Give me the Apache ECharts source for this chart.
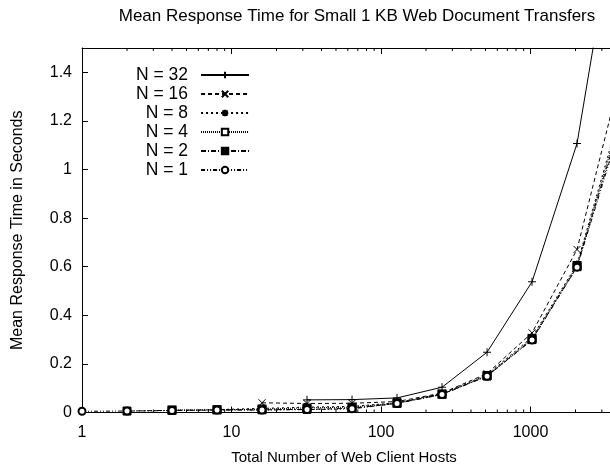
<!DOCTYPE html>
<html>
<head>
<meta charset="utf-8">
<script src="https://cdn.jsdelivr.net/npm/echarts@6/dist/echarts.min.js"></script>
<style>
  html, body { margin: 0; padding: 0; background: #fff; overflow: hidden; }
  /* the plot frame runs past the right edge of the window */
  #chart { width: 720px; height: 474px; }
</style>
</head>
<body>
<div id="chart"></div>
<script>
// Total number of web client hosts (x values)
const hosts = [1, 2, 4, 8, 16, 32, 64, 128, 256, 512, 1024, 2048, 4096];

// Mean response time (s) for each configuration; null where not measured
const n32 = [null, null, null, null, null, 0.052, 0.053, 0.060, 0.104, 0.248, 0.538, 1.107, 2.21];
const n16 = [null, null, null, null, 0.040, 0.037, 0.038, 0.045, 0.080, 0.160, 0.328, 0.671, 1.41];
const n8  = [null, null, null, 0.012, 0.017, 0.022, 0.025, 0.040, 0.078, 0.155, 0.310, 0.610, 1.26];
const n4  = [null, null, 0.010, 0.011, 0.014, 0.019, 0.022, 0.039, 0.076, 0.152, 0.305, 0.605, 1.24];
const n2  = [null, 0.006, 0.009, 0.011, 0.011, 0.013, 0.017, 0.038, 0.075, 0.150, 0.300, 0.600, 1.22];
const n1  = [0.005, 0.006, 0.008, 0.010, 0.010, 0.012, 0.015, 0.037, 0.074, 0.149, 0.298, 0.598, 1.20];

const seriesNames = ['N = 32', 'N = 16', 'N = 8', 'N = 4', 'N = 2', 'N = 1'];

// Minor ticks of the logarithmic host axis
const minorTicks = [];
[1, 10, 100, 1000].forEach(function (d) {
  for (let m = 2; m <= 9; m++) minorTicks.push(d * m);
});

const FONT = 'Liberation Sans';

function pairs(values) {
  return hosts.map(function (h, i) { return [h, values[i]]; });
}

const PLUS = 'path://M5,0L5,10M0,5L10,5';
const CROSS = 'path://M0,0L10,10M10,0L0,10';
const STAR = 'path://M1,1L9,9M9,1L1,9M5,0L5,10M0,5L10,5';

function lineSeries(name, values, dash, symbol, size, strokeOnly) {
  return {
    name: name,
    type: 'line',
    data: pairs(values),
    connectNulls: true,
    symbol: symbol,
    symbolSize: size,
    showAllSymbol: true,
    color: '#000',
    lineStyle: { color: '#000', width: 1, type: dash },
    itemStyle: strokeOnly
      ? { color: 'transparent', borderColor: '#000', borderWidth: 1 }
      : { color: '#000', borderColor: '#000', borderWidth: 1 },
    emphasis: { disabled: true },
    animation: false,
    z: 3
  };
}

const chart = echarts.init(document.getElementById('chart'), null, { renderer: 'canvas' });

const axisCommon = {
  type: 'log',
  logBase: 10,
  min: 1,
  max: 10000,
  axisLine: { lineStyle: { color: '#000', width: 1 } },
  axisTick: { inside: true, length: 6, lineStyle: { color: '#000' } },
  splitLine: { show: false }
};

chart.setOption({
  backgroundColor: '#fff',
  animation: false,
  textStyle: { fontFamily: FONT },
  grid: { left: 82, top: 48, right: 40, bottom: 61.5, containLabel: false },
  legend: {
    orient: 'vertical',
    left: 131,
    top: 61,
    align: 'right',
    itemWidth: 48,
    itemHeight: 8,
    itemGap: 1,
    selectedMode: false,
    data: seriesNames,
    textStyle: { fontFamily: FONT, fontSize: 17.5, color: '#000', lineHeight: 17, padding: [0, 8, 0, 0] }
  },
  xAxis: [
    Object.assign({}, axisCommon, {
      position: 'bottom',
      axisLabel: { color: '#000', fontFamily: FONT, fontSize: 16, margin: 12,
                   formatter: function (v) { return String(v); } }
    }),
    Object.assign({}, axisCommon, {
      position: 'top',
      axisLabel: { show: false }
    })
  ],
  yAxis: {
    type: 'value',
    min: 0,
    max: 1.5,
    interval: 0.2,
    name: 'Mean Response Time in Seconds',
    nameLocation: 'middle',
    nameGap: 56,
    nameTextStyle: { color: '#000', fontFamily: FONT, fontSize: 16 },
    axisLine: { show: true, lineStyle: { color: '#000', width: 1 } },
    axisTick: { show: true, inside: true, length: 6, lineStyle: { color: '#000' } },
    axisLabel: { color: '#000', fontFamily: FONT, fontSize: 16, margin: 10, showMaxLabel: false },
    splitLine: { show: false }
  },
  graphic: [
    {
      type: 'text', x: 357, y: 16,
      style: { text: 'Mean Response Time for Small 1 KB Web Document Transfers', fill: '#000',
               font: '17px "Liberation Sans"', align: 'center', verticalAlign: 'middle' }
    },
    {
      type: 'text', x: 344, y: 458,
      style: { text: 'Total Number of Web Client Hosts', fill: '#000',
               font: '15px "Liberation Sans"', align: 'center', verticalAlign: 'middle' }
    }
  ],
  series: [
    lineSeries('N = 32', n32, 'solid', PLUS, 8, true),
    lineSeries('N = 16', n16, [4, 3], CROSS, 7, true),
    lineSeries('N = 8', n8, [2, 3], STAR, 8, true),
    lineSeries('N = 4', n4, [1, 1], 'emptyRect', 7, false),
    lineSeries('N = 2', n2, [5, 2, 1, 2], 'rect', 8, false),
    lineSeries('N = 1', n1, [4, 2, 1, 2, 1, 2], 'emptyCircle', 7, false),
    {
      // short inward minor ticks on bottom and top borders
      type: 'custom',
      silent: true,
      z: 1,
      data: minorTicks.map(function (v) { return [v, 0]; }),
      renderItem: function (params, api) {
        const p = api.coord([api.value(0), 0]);
        const top = params.coordSys.y;
        return {
          type: 'group',
          children: [
            { type: 'line', shape: { x1: p[0], y1: p[1], x2: p[0], y2: p[1] - 3 }, style: { stroke: '#000', lineWidth: 1 } },
            { type: 'line', shape: { x1: p[0], y1: top, x2: p[0], y2: top + 3 }, style: { stroke: '#000', lineWidth: 1 } }
          ]
        };
      }
    }
  ]
});
</script>
</body>
</html>
